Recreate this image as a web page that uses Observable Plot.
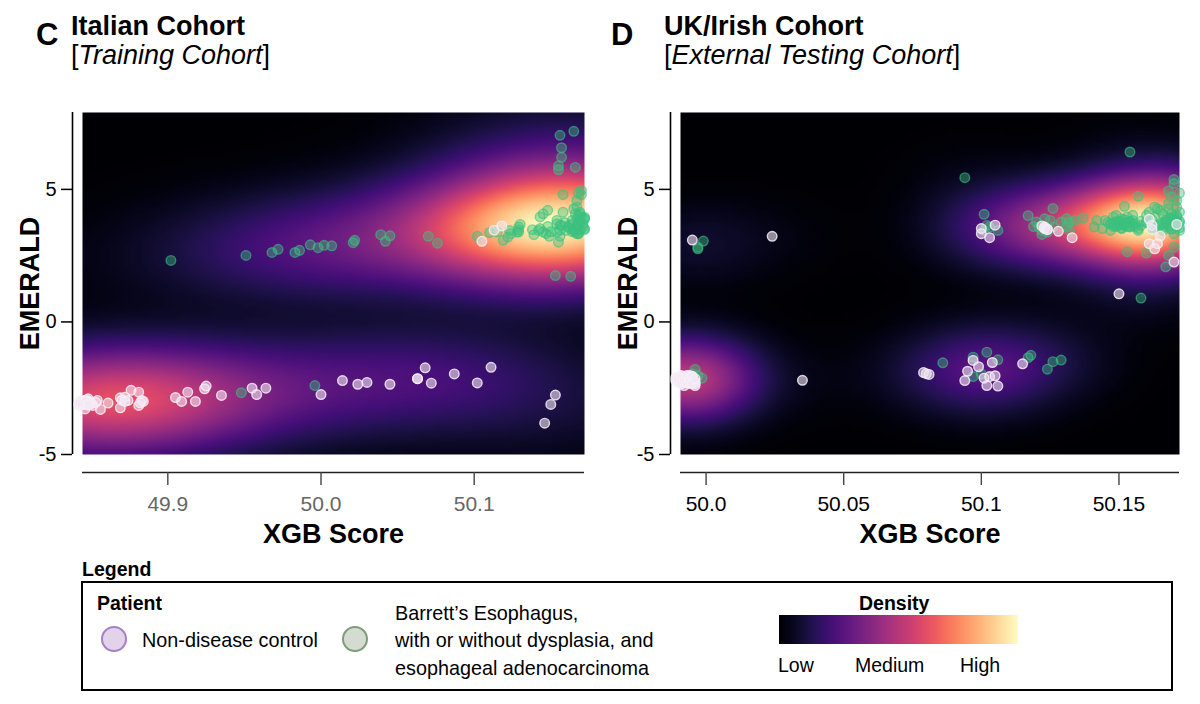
<!DOCTYPE html>
<html><head><meta charset="utf-8">
<script src="https://cdn.jsdelivr.net/npm/d3@7"></script>
<script src="https://cdn.jsdelivr.net/npm/@observablehq/plot@0.6"></script>
<style>
html,body{margin:0;padding:0;background:#fff}
body{position:relative;width:1200px;height:704px;overflow:hidden;font-family:"Liberation Sans",Arial,sans-serif;color:#000}
.a{position:absolute;white-space:nowrap;line-height:1}
.svgwrap{position:absolute;top:100px}
.svgwrap svg{overflow:visible;display:block}
</style></head><body>
<script>
// Panel C (Italian cohort)
const cControlX=[49.842,49.845,49.847,49.848,49.846,49.851,49.853,49.854,49.856,49.861,49.869,49.869,49.872,49.876,49.874,49.881,49.881,49.883,49.884,49.844,49.846,49.848,49.850,49.843,49.870,49.872,49.882,49.905,49.909,49.913,49.918,49.924,49.925,49.935,49.955,49.958,49.964,50.000,50.014,50.024,50.030,50.045,50.063,50.063,50.068,50.072,50.087,50.102,50.111,50.153,50.150,50.146,50.105,50.113,50.118,49.843,49.845,49.847,49.849,49.844,49.846,49.842,49.848];
const cControlY=[-3.15,-2.96,-2.94,-3.03,-3.28,-3.15,-3.03,-2.96,-3.30,-3.06,-3.24,-2.86,-2.84,-2.58,-2.96,-2.65,-3.15,-2.96,-3.00,-3.05,-3.10,-2.90,-3.08,-2.98,-2.95,-3.00,-3.05,-2.85,-3.00,-2.65,-3.00,-2.52,-2.42,-2.77,-2.50,-2.74,-2.50,-2.74,-2.21,-2.35,-2.28,-2.35,-2.14,-2.14,-1.73,-2.31,-1.96,-2.30,-1.71,-2.76,-3.11,-3.82,3.04,3.46,3.62,-3.00,-3.05,-3.10,-3.00,-3.12,-2.98,-3.08,-3.14];
const cDiseaseX=[49.902,49.951,49.968,49.972,49.983,49.986,49.993,49.998,50.002,50.007,50.021,50.022,50.039,50.045,50.042,50.070,50.076,50.102,49.948,49.996,50.110,50.115,50.119,50.122,50.124,50.123,50.128,50.129,50.130,50.129,50.138,50.139,50.143,50.143,50.148,50.145,50.148,50.145,50.149,50.154,50.158,50.158,50.166,50.155,50.155,50.157,50.157,50.156,50.165,50.153,50.163,50.155,50.156,50.154,50.157,50.161,50.164,50.165,50.167,50.167,50.168,50.170,50.170,50.169,50.170,50.172,50.168,50.167,50.172,50.166,50.168,50.163,50.154,50.156,50.159,50.160,50.162,50.164,50.165,50.166,50.167,50.168,50.168,50.169,50.169,50.171,50.171,50.172,50.172,50.172,50.167,50.164,50.168,50.166,50.169,50.156,50.150,50.147,50.142,50.129];
const cDiseaseY=[2.32,2.51,2.62,2.74,2.62,2.70,2.91,2.80,2.89,2.87,2.99,3.08,3.29,3.25,3.04,3.23,2.97,3.23,-2.67,-2.40,3.37,3.39,3.08,3.20,3.33,3.45,3.39,3.58,3.68,3.48,3.48,3.29,3.52,3.96,4.21,4.08,3.60,3.39,3.23,3.83,4.14,4.80,5.83,5.74,5.89,6.21,6.57,7.04,7.19,1.75,1.72,3.01,3.23,3.39,3.64,3.58,3.83,4.27,4.58,4.33,4.86,4.96,4.80,4.08,3.96,3.89,3.77,3.58,3.48,3.39,3.33,3.52,3.70,3.64,3.75,3.45,3.64,3.70,3.45,3.52,3.89,3.64,4.02,3.83,3.45,3.70,3.58,3.95,3.89,3.52,3.33,3.40,3.33,4.08,4.14,3.45,3.40,3.33,3.45,3.39];
// Panel D (UK/Irish cohort)
const dControlX=[49.995,50.024,49.989,49.991,49.991,49.992,49.993,49.994,49.994,49.995,49.996,49.996,49.992,49.991,49.990,49.992,49.993,49.994,49.995,49.993,49.992,49.991,49.994,49.995,49.996,50.035,50.079,50.081,50.080,50.094,50.095,50.097,50.099,50.104,50.101,50.103,50.105,50.102,50.106,50.115,50.100,50.100,50.105,50.103,50.123,50.123,50.123,50.122,50.124,50.124,50.128,50.133,50.150,50.170,50.161,50.162,50.162,50.165,50.161,50.164,50.163,50.171,49.989,49.990,49.990,49.991,49.991,49.992,49.992,49.993,49.993,49.994,49.994,49.995,49.995,49.996];
const dControlY=[3.09,3.23,-2.21,-2.14,-2.02,-2.27,-2.08,-2.21,-2.02,-2.14,-2.40,-2.27,-2.40,-2.33,-2.08,-2.14,-2.27,-2.33,-2.08,-2.14,-2.21,-2.27,-2.14,-2.21,-2.33,-2.20,-1.91,-1.98,-1.95,-2.21,-1.86,-1.45,-1.69,-1.53,-2.12,-2.06,-2.03,-2.40,-2.42,-1.58,3.52,3.33,3.65,3.18,3.55,3.58,3.52,3.62,3.50,3.48,3.42,3.18,1.06,2.26,3.87,3.64,3.49,3.24,2.95,2.95,2.76,3.68,-2.10,-2.28,-2.18,-2.05,-2.32,-2.10,-2.24,-2.02,-2.30,-2.12,-2.26,-2.05,-2.30,-2.15];
const dDiseaseX=[49.999,49.997,49.997,49.996,49.995,49.9985,49.997,50.086,50.097,50.102,50.106,50.097,50.100,50.118,50.117,50.126,50.129,50.124,50.154,50.094,50.101,50.117,50.126,50.158,50.153,50.160,50.167,50.168,50.170,50.157,50.152,50.163,50.170,50.170,50.168,50.172,50.169,50.171,50.102,50.101,50.106,50.103,50.119,50.120,50.121,50.122,50.122,50.123,50.124,50.125,50.126,50.129,50.131,50.131,50.132,50.134,50.137,50.132,50.141,50.142,50.144,50.145,50.147,50.148,50.149,50.149,50.150,50.151,50.151,50.152,50.153,50.154,50.154,50.155,50.155,50.157,50.157,50.158,50.160,50.160,50.161,50.162,50.163,50.164,50.165,50.166,50.167,50.168,50.169,50.169,50.170,50.171,50.171,50.171,50.172,50.172,50.168,50.169,50.165,50.166,50.148,50.149,50.150,50.151,50.152,50.153,50.154,50.147,50.146,50.156,50.168,50.170,50.171,50.172,50.166,50.167,50.170,50.169,50.147,50.148,50.149,50.150,50.150,50.151,50.152,50.152,50.153,50.154,50.155,50.156,50.160,50.162,50.164,50.166,50.167,50.168,50.168,50.169,50.170,50.170,50.171,50.171,50.172,50.172,50.169,50.165,50.162,50.158];
const dDiseaseY=[3.05,2.76,2.82,-1.79,-1.96,-2.12,-2.02,-1.54,-1.33,-1.14,-1.43,-2.06,-1.96,-1.26,-1.35,-1.50,-1.44,-1.78,6.41,5.44,4.06,4.01,4.28,0.90,2.65,2.60,2.08,2.51,2.82,4.74,4.36,4.33,5.37,5.22,4.94,4.86,4.71,4.58,3.64,3.45,3.45,3.58,3.60,3.77,3.58,3.45,3.30,3.89,3.39,3.83,3.58,3.77,3.60,3.89,3.45,3.83,3.92,3.77,3.58,3.83,3.52,3.83,3.45,3.96,3.64,4.02,3.77,3.52,3.89,3.64,3.96,3.77,3.58,4.02,3.83,3.52,3.45,3.64,4.02,3.77,4.14,3.52,3.96,4.27,3.64,4.08,3.77,4.27,3.89,3.52,3.33,4.02,4.33,3.77,4.14,3.45,4.46,4.08,4.21,3.45,3.75,3.60,3.70,3.80,3.65,3.75,3.60,3.70,3.75,3.60,3.65,3.70,3.60,3.75,3.55,3.85,3.95,3.50,3.70,3.60,3.80,3.65,3.75,3.55,3.85,3.70,3.60,3.80,3.65,3.70,3.75,3.85,3.60,3.70,3.80,3.90,3.60,3.75,3.65,3.85,3.70,3.95,3.55,3.80,3.90,3.70,3.60,3.80];
// Axis ticks
const yTicks=[-5,0,5];
const cTicks=[49.9,50.0,50.1];
const cTickLabels=["49.9","50.0","50.1"];
const dTicks=[50,50.05,50.1,50.15];
const dTickLabels=["50.0","50.05","50.1","50.15"];
const densityRampLabels=["Low","Medium","High"];
const rows=(xs,ys)=>xs.map((x,i)=>({x,y:ys[i]}));
function kde(points,hx,hy){
  return (x,y)=>{let s=0;for(const p of points){const a=(x-p.x)/hx,b=(y-p.y)/hy;s+=Math.exp(-.5*(a*a+b*b));}return s;};
}
function panel({left,marginLeft,marginRight,xDomain,ticks,labels,tickColor,controlX,controlY,diseaseX,diseaseY,hx,hy}){
  const control=rows(controlX,controlY),disease=rows(diseaseX,diseaseY);
  const yDomain=[-5,7.9];
  const f=kde(control.concat(disease),hx,hy);
  let peak=0;
  for(let i=0;i<=100;i++)for(let j=0;j<=100;j++){peak=Math.max(peak,f(xDomain[0]+(xDomain[1]-xDomain[0])*i/100,yDomain[0]+(yDomain[1]-yDomain[0])*j/100));}
  const chart=Plot.plot({
    width:600,height:450,marginLeft,marginRight,marginTop:12,marginBottom:96,
    style:{fontFamily:"'Liberation Sans',Arial,sans-serif",background:"transparent"},
    x:{domain:xDomain},y:{domain:yDomain},
    color:{type:"pow",exponent:.8,scheme:"magma",domain:[0,peak]},
    marks:[
      Plot.raster({fill:f,x1:xDomain[0],x2:xDomain[1],y1:yDomain[0],y2:yDomain[1],width:100,height:100}),
      Plot.ruleX([xDomain[0]],{dx:-10,stroke:"#000",strokeWidth:1.6}),
      Plot.ruleY([yDomain[0]],{dy:18,stroke:"#222",strokeWidth:1.4}),
      Plot.axisY({ticks:yTicks,tickFormat:d=>String(d),tickSize:11,dx:-10,fontSize:20,tickPadding:5,stroke:"#000",strokeWidth:1.5,label:null}),
      Plot.axisX({ticks,tickFormat:d=>labels[ticks.indexOf(d)],tickSize:13,dy:18,fontSize:21,tickPadding:11,stroke:"#444",strokeWidth:1.4,color:tickColor,label:null}),
      Plot.text(["XGB Score"],{frameAnchor:"bottom",dy:88,fontSize:27,fontWeight:"bold",fill:"#000"}),
      Plot.text(["EMERALD"],{frameAnchor:"left",textAnchor:"middle",dx:-52,rotate:-90,fontSize:27,fontWeight:"bold",fill:"#000"}),
      Plot.dot(disease,{x:"x",y:"y",r:4.8,fill:"#3cc27f",fillOpacity:.42,stroke:"#3cc27f",strokeOpacity:.6,strokeWidth:1.4}),
      Plot.dot(control,{x:"x",y:"y",r:4.8,fill:"#f3e6f4",fillOpacity:.6,stroke:"#f7f0f8",strokeOpacity:.85,strokeWidth:1.4})
    ]
  });
  const w=document.createElement("div");w.className="svgwrap";w.style.left=left+"px";w.appendChild(chart);document.body.appendChild(w);
}
panel({left:0,marginLeft:82,marginRight:16,xDomain:[49.8443,50.172],ticks:cTicks,labels:cTickLabels,tickColor:"#666",controlX:cControlX,controlY:cControlY,diseaseX:cDiseaseX,diseaseY:cDiseaseY,hx:.056,hy:1.3});
panel({left:600,marginLeft:80,marginRight:21,xDomain:[49.9907,50.172],ticks:dTicks,labels:dTickLabels,tickColor:"#000",controlX:dControlX,controlY:dControlY,diseaseX:dDiseaseX,diseaseY:dDiseaseY,hx:.016,hy:1.0});
function text(s,l,t,css){const d=document.createElement("div");d.className="a";d.style.left=l+"px";d.style.top=t+"px";d.style.cssText+=css||"";d.innerHTML=s;document.body.appendChild(d);return d;}
text("C",36,17,"font:bold 31px 'Liberation Sans'");
text("Italian Cohort",71,11,"font:bold 27px 'Liberation Sans'");
text("[<i>Training Cohort</i>]",71,40,"font:27px 'Liberation Sans'");
text("D",611,17,"font:bold 31px 'Liberation Sans'");
text("UK/Irish Cohort",664,11,"font:bold 27px 'Liberation Sans'");
text("[<i>External Testing Cohort</i>]",664,40,"font:27px 'Liberation Sans'");
text("Legend",82,558,"font:bold 19.5px 'Liberation Sans'");
const box=text("",81,581,"width:1088px;height:106px;border:2px solid #000");
text("Patient",97,592,"font:bold 19.5px 'Liberation Sans'");
const sw=(x,f,s)=>text("",x-12.5,625.5,`width:22px;height:22px;border-radius:50%;background:${f};border:2px solid ${s}`);
sw(113,"#e2d3ea","#a67fc6");sw(354,"#d4dcd2","#7f9c78");
text("Non-disease control",142,629,"font:19.8px 'Liberation Sans'");
text("Barrett’s Esophagus,",395,602,"font:19.8px 'Liberation Sans'");
text("with or without dysplasia, and",395,629,"font:19.8px 'Liberation Sans'");
text("esophageal adenocarcinoma",395,657,"font:19.8px 'Liberation Sans'");
text("Density",859,592,"font:bold 19.5px 'Liberation Sans'");
const stops=d3.range(0,1.001,.05).map(t=>d3.interpolateMagma(t)).join(",");
text("",779,615,`width:239px;height:29px;background:linear-gradient(to right,${stops})`);
densityRampLabels.forEach((s,i)=>text(s,[778,855,960][i],654,"font:19.5px 'Liberation Sans'"));
</script>
</body></html>
